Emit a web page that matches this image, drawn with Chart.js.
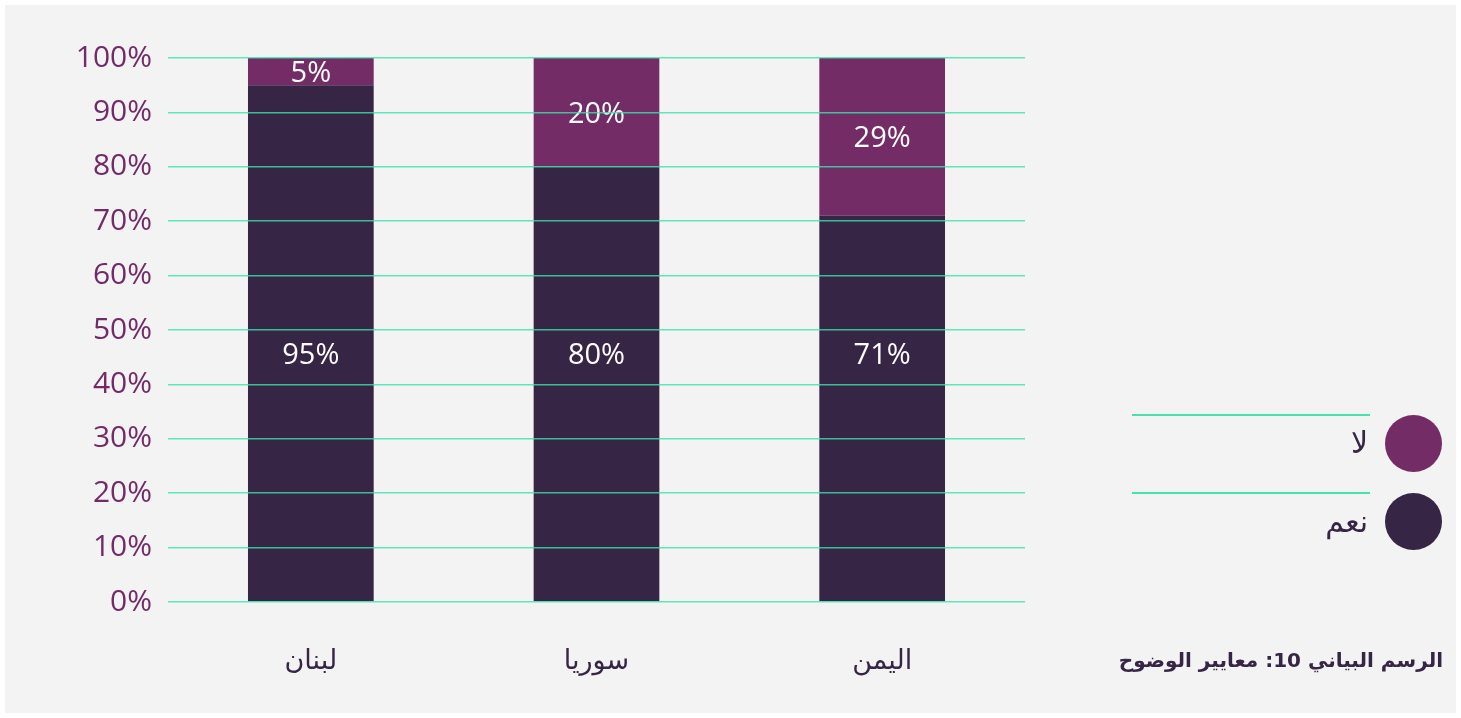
<!DOCTYPE html>
<html lang="ar">
<head>
<meta charset="utf-8">
<script src="https://cdn.jsdelivr.net/npm/chart.js@4"></script>
<style>
  html, body { margin: 0; padding: 0; background: #ffffff; }
  #panel { position: absolute; left: 5px; top: 5px; width: 1451px; height: 708px; background: #f3f3f3; }
  #wrap { position: absolute; left: 0; top: 0; width: 1461px; height: 718px; }
  .leg-line { position: absolute; left: 1132px; width: 238px; height: 2px; background: #46e3b0; }
  .leg-dot { position: absolute; left: 1385px; width: 57px; height: 57px; border-radius: 50%; }
  .leg-txt { position: absolute; right: 93px; font-family: "DejaVu Sans", sans-serif; font-size: 30px; color: #372545; direction: rtl; line-height: 1; }
  #caption { position: absolute; right: 18px; top: 648px; font-family: "DejaVu Sans", sans-serif; font-weight: bold; font-size: 20px; color: #372545; direction: rtl; }
</style>
</head>
<body>
<div id="panel"></div>
<div id="wrap"><canvas id="myChart"></canvas></div>

<div class="leg-line" style="top:414px"></div>
<div class="leg-dot" style="top:415px;background:#742c66"></div>
<div class="leg-txt" style="top:428px">لا</div>
<div class="leg-line" style="top:492px"></div>
<div class="leg-dot" style="top:493px;background:#372545"></div>
<div class="leg-txt" style="top:507px">نعم</div>
<div id="caption">الرسم البياني 10: معايير الوضوح</div>

<script>
// data
var countries = ['لبنان', 'سوريا', 'اليمن'];
var yesValues = [95, 80, 71];
var noValues = [5, 20, 29];
var seriesNames = ['نعم', 'لا'];

// white value labels inside the bars
var barLabels = {
    id: 'barLabels',
    afterDatasetsDraw: function (chart) {
        var ctx = chart.ctx;
        var yScale = chart.scales.y;
        ctx.save();
        ctx.fillStyle = '#ffffff';
        ctx.font = '29px "Open Sans", sans-serif';
        ctx.textAlign = 'center';
        ctx.textBaseline = 'middle';
        chart.data.datasets.forEach(function (ds, di) {
            var meta = chart.getDatasetMeta(di);
            meta.data.forEach(function (bar, i) {
                var y;
                if (di === 0) {
                    y = yScale.getPixelForValue(45.3);
                } else {
                    y = (bar.y + bar.base) / 2 + 2;
                }
                ctx.fillText(ds.data[i] + '%', bar.x, y);
            });
        });
        ctx.restore();
    }
};

var ctx = document.getElementById('myChart').getContext('2d');

var myChart = new Chart(ctx, {
    type: 'bar',
    data: {
        labels: countries,
        datasets: [
            { label: seriesNames[0], data: yesValues, backgroundColor: '#372545', borderWidth: 0 },
            { label: seriesNames[1], data: noValues, backgroundColor: '#742c66', borderWidth: 0 }
        ]
    },
    options: {
        responsive: true,
        maintainAspectRatio: false,
        animation: false,
        datasets: { bar: { barPercentage: 0.44, categoryPercentage: 1 } },
        plugins: {
            legend: { display: false },
            tooltip: { enabled: false }
        },
        layout: {
            padding: { top: 58, right: 436, left: 0, bottom: 0 }
        },
        scales: {
            x: {
                stacked: true,
                grid: { display: false },
                border: { display: false },
                ticks: {
                    color: '#372545',
                    font: { family: '"DejaVu Sans", sans-serif', size: 27 },
                    padding: 36
                },
                afterFit: function (scale) { scale.height = 116; }
            },
            y: {
                stacked: true,
                min: 0,
                max: 100,
                grid: { color: 'rgba(58, 228, 172, 0.8)', lineWidth: 1.5, z: 1, drawTicks: false },
                border: { display: false },
                ticks: {
                    stepSize: 10,
                    color: '#722b68',
                    font: { family: '"Open Sans", sans-serif', size: 30 },
                    padding: 16,
                    callback: function (v) { return v + '%'; }
                },
                afterFit: function (scale) { scale.width = 168; }
            }
        }
    },
    plugins: [barLabels]
});
</script>
</body>
</html>
